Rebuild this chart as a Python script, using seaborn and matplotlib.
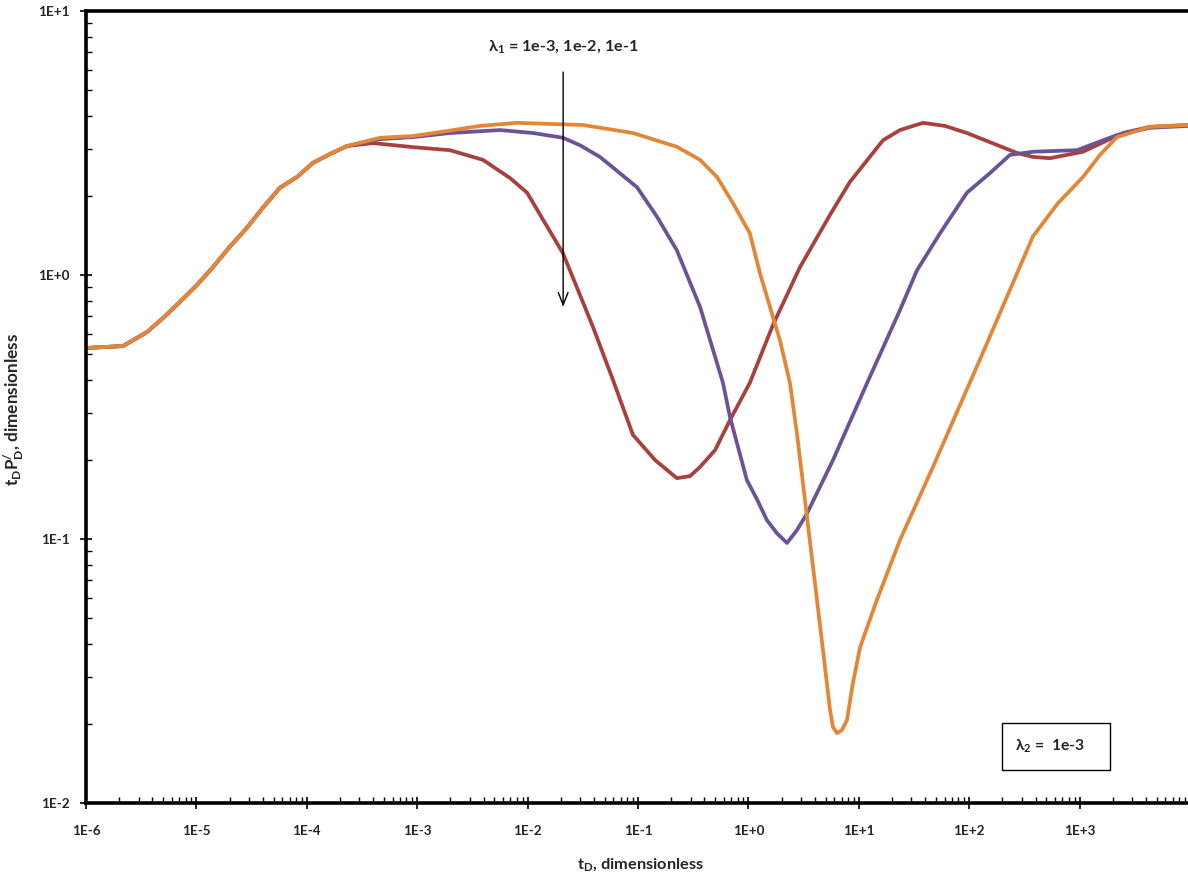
import numpy as np
import pandas as pd
import matplotlib
matplotlib.use("Agg")
import matplotlib.pyplot as plt
from matplotlib.ticker import LogLocator, FixedLocator, FuncFormatter, NullFormatter
from matplotlib.patches import Rectangle
import seaborn as sns

# Dimensionless pressure-derivative curves, one per interporosity coefficient lambda_1
t_early = [1e-6, 2.16e-6, 3.57e-6, 4.98e-6, 7.1e-6, 1.01e-5, 1.41e-5, 2.01e-5, 2.87e-5,
           4.01e-5, 5.71e-5, 8.15e-5, 1.14e-4, 1.62e-4, 2.31e-4]
y_early = [0.529, 0.538, 0.608, 0.687, 0.791, 0.916, 1.07, 1.28, 1.51,
           1.80, 2.14, 2.35, 2.66, 2.87, 3.08]

t_red = [3.98e-4, 9.2e-4, 1.98e-3, 3.94e-3, 6.93e-3, 9.9e-3, 1.38e-2, 2.09e-2, 3.91e-2,
         5.94e-2, 9.0e-2, 0.143, 0.225, 0.296, 0.365, 0.499, 0.681, 1.03, 1.67, 2.93,
         5.49, 8.3, 16.6, 23.6, 38.2, 60.4, 95.5, 271, 378, 540, 1074, 2472, 4345, 9600]
y_red = [3.16, 3.05, 2.97, 2.73, 2.33, 2.05, 1.62, 1.21, 0.636,
         0.40, 0.248, 0.199, 0.170, 0.173, 0.1875, 0.217, 0.282, 0.390, 0.647, 1.07,
         1.69, 2.25, 3.24, 3.54, 3.77, 3.67, 3.45, 2.90, 2.80, 2.77, 2.93, 3.45, 3.64, 3.70]

t_purple = [4.6e-4, 9.2e-4, 1.98e-3, 5.62e-3, 1.12e-2, 2.09e-2, 2.99e-2, 4.53e-2, 9.8e-2,
            0.149, 0.225, 0.365, 0.589, 0.681, 0.97, 1.20, 1.47, 1.82, 2.24, 2.75, 3.40,
            5.84, 11.9, 23.6, 33.6, 54.5, 95.5, 154, 234, 378, 948, 2183, 4345, 9600]
y_purple = [3.27, 3.33, 3.45, 3.54, 3.45, 3.31, 3.10, 2.80, 2.15,
            1.66, 1.24, 0.757, 0.390, 0.290, 0.167, 0.141, 0.118, 0.105, 0.0966, 0.108, 0.125,
            0.199, 0.390, 0.736, 1.04, 1.44, 2.05, 2.43, 2.85, 2.93, 2.97, 3.39, 3.61, 3.67]

t_orange = [4.6e-4, 9.2e-4, 1.86e-3, 3.7e-3, 8.0e-3, 3.18e-2, 9.0e-2, 0.225, 0.365,
            0.52, 0.726, 1.03, 1.27, 1.67, 1.93, 2.38, 2.75, 3.12, 3.85, 4.74, 5.49,
            5.84, 6.35, 7.05, 7.82, 8.85, 10.3, 14.6, 23.6, 47, 133, 378, 637, 1074,
            1531, 2183, 4345, 9600]
y_orange = [3.31, 3.36, 3.51, 3.67, 3.77, 3.70, 3.45, 3.06, 2.73,
            2.35, 1.87, 1.44, 1.02, 0.693, 0.567, 0.390, 0.252, 0.163, 0.0783, 0.0380, 0.0225,
            0.0194, 0.0184, 0.0189, 0.0206, 0.0285, 0.039, 0.0588, 0.099, 0.1875, 0.507, 1.40,
            1.87, 2.35, 2.85, 3.33, 3.64, 3.70]

series = ["1e-1", "1e-2", "1e-3"]
palette = {"1e-1": "#A8413D", "1e-2": "#6A5497", "1e-3": "#E38737"}

x_decades = [1e-6, 1e-5, 1e-4, 1e-3, 1e-2, 1e-1, 1e0, 1e1, 1e2, 1e3]
y_decades = [1e-2, 1e-1, 1e0, 1e1]

frames = []
for name, t, y in zip(series, [t_red, t_purple, t_orange], [y_red, y_purple, y_orange]):
    frames.append(pd.DataFrame({"tD": t_early + t, "deriv": y_early + y, "lam1": name}))
df = pd.concat(frames, ignore_index=True)

sns.set_style("white")
plt.rcParams["font.family"] = ["Lato", "DejaVu Sans"]
plt.rcParams["font.weight"] = "bold"
plt.rcParams["mathtext.default"] = "regular"

fig = plt.figure(figsize=(11.88, 8.77), dpi=100)
W, H = 1188, 877
ax = fig.add_axes([86 / W, 74 / H, 1102 / W, 792 / H])
renderer = fig.canvas.get_renderer()


def fit_width(artist, target_px, vertical=False):
    """Scale a text's font size so its drawn extent spans target_px."""
    bb = artist.get_window_extent(renderer)
    size = bb.height if vertical else bb.width
    artist.set_fontsize(artist.get_fontsize() * target_px / size)
    return artist.get_fontsize()


sns.lineplot(data=df, x="tD", y="deriv", hue="lam1", hue_order=series, palette=palette,
             linewidth=2.7, sort=False, legend=False, ax=ax)
for line in ax.get_lines():
    line.set_solid_joinstyle("round")
    line.set_solid_capstyle("round")

ax.set_xscale("log")
ax.set_yscale("log")
ax.set_xlim(1e-6, 9600)
ax.set_ylim(1e-2, 1e1)

fmt = FuncFormatter(lambda v, p: "1E{:+d}".format(int(round(np.log10(v)))))
ax.xaxis.set_major_locator(FixedLocator(x_decades))
ax.yaxis.set_major_locator(FixedLocator(y_decades))
ax.xaxis.set_major_formatter(fmt)
ax.yaxis.set_major_formatter(fmt)
ax.xaxis.set_minor_locator(LogLocator(base=10, subs=np.arange(2, 10), numticks=100))
ax.yaxis.set_minor_locator(LogLocator(base=10, subs=np.arange(2, 10), numticks=100))
ax.xaxis.set_minor_formatter(NullFormatter())
ax.yaxis.set_minor_formatter(NullFormatter())

# size tick labels so "1E+3" is about 31 px wide
probe = fig.text(0.5, 0.5, "1E+3", fontsize=10, fontweight="bold")
tick_size = fit_width(probe, 31)
probe.remove()

ax.tick_params(which="major", direction="inout", length=8, width=1.2, color="black",
               labelsize=tick_size)
ax.tick_params(axis="x", which="major", pad=12)
ax.tick_params(axis="y", which="major", pad=8)
ax.tick_params(which="minor", direction="in", length=4, width=1.0, color="black")
ax.tick_params(axis="x", which="both", bottom=True, top=False)
ax.tick_params(axis="y", which="both", left=True, right=False)
for lab in ax.get_xticklabels() + ax.get_yticklabels():
    lab.set_fontweight("bold")

for side in ["left", "bottom", "top"]:
    ax.spines[side].set_visible(True)
    ax.spines[side].set_color("black")
    ax.spines[side].set_linewidth(2.6)
ax.spines["right"].set_visible(False)
ax.grid(False)

xl = ax.set_xlabel(r"t$_\mathregular{D}$, dimensionless", fontsize=10, fontweight="bold")
yl = ax.set_ylabel(r"t$_\mathregular{D}$P$^\mathregular{/}_\mathregular{D}$, dimensionless",
                   fontsize=10, fontweight="bold")
fit_width(xl, 127)
fit_width(yl, 153, vertical=True)
xl.set_verticalalignment("center")
yl.set_verticalalignment("center")
ax.xaxis.set_label_coords(0.503, (803 - 865) / 792)
ax.yaxis.set_label_coords((14 - 86) / 1102, 0.497)

# lambda_1 sweep annotation
ax.annotate("", xy=(0.021, 0.757), xytext=(0.021, 5.87),
            arrowprops=dict(arrowstyle="->,head_length=0.9,head_width=0.35", color="black",
                            lw=1.0, shrinkA=0, shrinkB=0))
lam1 = ax.text(0.021, 7.3, r"λ$_\mathregular{1}$ = 1e-3, 1e-2, 1e-1", ha="center",
               va="center", fontsize=11, fontweight="bold")
fit_width(lam1, 150)

# lambda_2 box
fig.add_artist(Rectangle((1002 / W, 1 - 770 / H), 108 / W, 47 / H, transform=fig.transFigure,
                         facecolor="white", edgecolor="black", linewidth=1.0))
lam2 = fig.text(1050 / W, 1 - 746 / H, r"λ$_\mathregular{2}$ =  1e-3", ha="center",
                va="center", fontsize=11, fontweight="bold")
fit_width(lam2, 70)

fig.savefig("out.png", dpi=100)
